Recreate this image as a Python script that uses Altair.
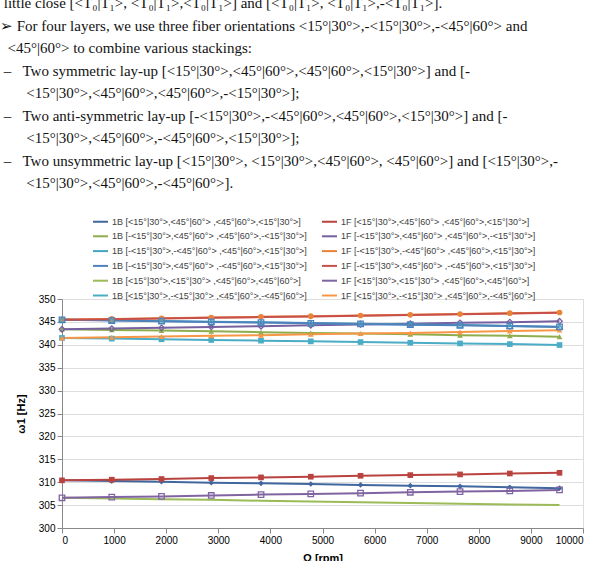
import altair as alt
import pandas as pd

omega = [0, 955, 1910, 2865, 3820, 4775, 5730, 6685, 7640, 8595, 9549]

series_names = [
    "1B [<15°|30°>,<45°|60°> ,<45°|60°>,<15°|30°>]",
    "1F [<15°|30°>,<45°|60°> ,<45°|60°>,<15°|30°>]",
    "1B [-<15°|30°>,<45°|60°> ,<45°|60°>,-<15°|30°>]",
    "1F [-<15°|30°>,<45°|60°> ,<45°|60°>,-<15°|30°>]",
    "1B [-<15°|30°>,-<45°|60°> ,<45°|60°>,<15°|30°>]",
    "1F [-<15°|30°>,-<45°|60°> ,<45°|60°>,<15°|30°>]",
    "1B [-<15°|30°>,<45°|60°> ,-<45°|60°>,<15°|30°>]",
    "1F [-<15°|30°>,<45°|60°> ,-<45°|60°>,<15°|30°>]",
    "1B [<15°|30°>,<15°|30°> ,<45°|60°>,<45°|60°>]",
    "1F [<15°|30°>,<15°|30°> ,<45°|60°>,<45°|60°>]",
    "1B [<15°|30°>,-<15°|30°> ,<45°|60°>,-<45°|60°>]",
    "1F [<15°|30°>,-<15°|30°> ,<45°|60°>,-<45°|60°>]",
]

s1 = [310.4, 310.25, 310.1, 309.9, 309.75, 309.6, 309.4, 309.25, 309.1, 308.9, 308.7]
s2 = [310.4, 310.55, 310.7, 310.9, 311.05, 311.2, 311.4, 311.55, 311.7, 311.9, 312.05]
s3 = [343.4, 343.25, 343.1, 342.95, 342.75, 342.6, 342.45, 342.3, 342.1, 341.95, 341.75]
s4 = [343.4, 343.55, 343.7, 343.9, 344.05, 344.25, 344.45, 344.6, 344.8, 344.95, 345.15]
s5 = [345.5, 345.35, 345.2, 345.05, 344.9, 344.75, 344.6, 344.45, 344.3, 344.1, 343.95]
s6 = [345.5, 345.65, 345.8, 345.95, 346.1, 346.25, 346.4, 346.55, 346.7, 346.9, 347.05]
s7 = [345.45, 345.3, 345.15, 345.0, 344.85, 344.7, 344.55, 344.4, 344.25, 344.1, 343.9]
s8 = [345.45, 345.6, 345.75, 345.9, 346.05, 346.2, 346.35, 346.5, 346.65, 346.85, 347.0]
s9 = [306.6, 306.45, 306.3, 306.15, 305.95, 305.8, 305.6, 305.45, 305.3, 305.15, 305.0]
s10 = [306.6, 306.75, 306.9, 307.1, 307.3, 307.45, 307.6, 307.8, 307.95, 308.1, 308.3]
s11 = [341.5, 341.35, 341.2, 341.05, 340.9, 340.75, 340.6, 340.45, 340.3, 340.15, 339.95]
s12 = [341.5, 341.65, 341.8, 341.95, 342.1, 342.3, 342.45, 342.6, 342.8, 343.0, 343.2]
all_values = [s1, s2, s3, s4, s5, s6, s7, s8, s9, s10, s11, s12]

markers = ["diamond", "square", "triangle", "x", "star", "circle",
           "plus", "none", "none", "plus", "square", "triangle"]

colors = ["#41679F", "#B8433F", "#8FAD4C", "#7660A0", "#45A5C0", "#E9833A",
          "#4F81BD", "#C8504A", "#9BBB59", "#8064A2", "#4BACC6", "#F79646"]

Z = "\u200b"
N = "\u00a0"
paragraph = [
    Z + N + "little close [<T\u2080|T\u2081>, <T\u2080|T\u2081>,<T\u2080|T\u2081>] and [<T\u2080|T\u2081>, <T\u2080|T\u2081>,-<T\u2080|T\u2081>].",
    "\u27a2 For four layers, we use three fiber orientations <15°|30°>,-<15°|30°>,-<45°|60°> and",
    Z + N * 2 + "<45°|60°> to combine various stackings:",
    Z + N + "\u2013" + N * 3 + "Two symmetric lay-up [<15°|30°>,<45°|60°>,<45°|60°>,<15°|30°>] and [-",
    Z + N * 7 + "<15°|30°>,<45°|60°>,<45°|60°>,-<15°|30°>];",
    Z + N + "\u2013" + N * 3 + "Two anti-symmetric lay-up [-<15°|30°>,-<45°|60°>,<45°|60°>,<15°|30°>] and [-",
    Z + N * 7 + "<15°|30°>,<45°|60°>,-<45°|60°>,<15°|30°>];",
    Z + N + "\u2013" + N * 3 + "Two unsymmetric lay-up [<15°|30°>, <15°|30°>,<45°|60°>, <45°|60°>] and [<15°|30°>,-",
    Z + N * 7 + "<15°|30°>,<45°|60°>,-<45°|60°>].",
]

rows = []
for name, vals, mk in zip(series_names, all_values, markers):
    for o, v in zip(omega, vals):
        rows.append({"series": name, "omega": o, "freq": v, "marker": mk})
df = pd.DataFrame(rows)

# legend fills column by column: 1B entries in the first column, 1F in the second
legend_order = series_names[0::2] + series_names[1::2]
legend_colors = colors[0::2] + colors[1::2]

x_enc = alt.X("omega:Q", title="Ω [rpm]",
              scale=alt.Scale(domain=[0, 10000], nice=False),
              axis=alt.Axis(values=list(range(0, 10001, 1000)), grid=False, format="d",
                            titleFontWeight="bold", titlePadding=7))
y_enc = alt.Y("freq:Q", title="ω1 [Hz]",
              scale=alt.Scale(domain=[300, 350], nice=False, zero=False),
              axis=alt.Axis(values=list(range(300, 351, 5)), grid=True, format="d",
                            titleFontWeight="bold", titlePadding=12))
color_scale = alt.Scale(domain=legend_order, range=legend_colors)

lines = alt.Chart(df).mark_line(strokeWidth=2).encode(
    x=x_enc, y=y_enc,
    color=alt.Color("series:N", scale=color_scale, sort=legend_order,
                    legend=alt.Legend(
                        title=None, orient="none", legendX=30, legendY=-86,
                        columns=2, columnPadding=11, rowPadding=0.8, padding=0,
                        symbolType="stroke", symbolSize=225, symbolStrokeWidth=2,
                        labelFont="Liberation Sans", labelFontSize=9,
                        labelColor="#404040", labelOffset=3, labelLimit=400)),
)

filled_shapes = ["diamond", "square", "triangle", "circle"]
filled_paths = ["diamond", "square", "triangle-up", "circle"]
stroke_shapes = ["x", "plus", "star"]
stroke_paths = ["M-1,-1L1,1M-1,1L1,-1", "M-1,0L1,0M0,-1L0,1",
                "M-1,-1L1,1M-1,1L1,-1M0,-1.2L0,1.2"]

pts_filled = alt.Chart(df).transform_filter(
    alt.FieldOneOfPredicate(field="marker", oneOf=filled_shapes)
).mark_point(filled=True, size=32, opacity=1).encode(
    x=x_enc, y=y_enc,
    color=alt.Color("series:N", scale=color_scale, legend=None),
    shape=alt.Shape("marker:N", scale=alt.Scale(domain=filled_shapes, range=filled_paths), legend=None),
)

pts_stroke = alt.Chart(df).transform_filter(
    alt.FieldOneOfPredicate(field="marker", oneOf=stroke_shapes)
).mark_point(filled=False, size=30, strokeWidth=1.3, opacity=1).encode(
    x=x_enc, y=y_enc,
    color=alt.Color("series:N", scale=color_scale, legend=None),
    shape=alt.Shape("marker:N", scale=alt.Scale(domain=stroke_shapes, range=stroke_paths), legend=None),
)

chart = alt.layer(lines, pts_filled, pts_stroke).properties(
    width=521, height=229,
    autosize=alt.AutoSizeParams(type="none"),
    padding={"left": 62, "top": 299, "right": 27, "bottom": 33},
    title=alt.TitleParams(
        text=paragraph, anchor="start", frame="group", dx=-62, offset=22,
        font="Liberation Serif", fontSize=15, fontWeight="normal",
        color="#111111", lineHeight=22.5),
).configure_view(stroke=None).configure_axis(
    labelFont="Liberation Sans", labelFontSize=10, labelColor="#595959",
    titleFont="Liberation Sans", titleFontSize=11, titleColor="#333333",
    domainColor="#868686", tickColor="#868686", tickSize=5, labelPadding=3,
    gridColor="#D9D9D9", gridWidth=1,
).configure(background="white")

chart.save("out.html", embed_options={"renderer": "svg", "actions": False})
